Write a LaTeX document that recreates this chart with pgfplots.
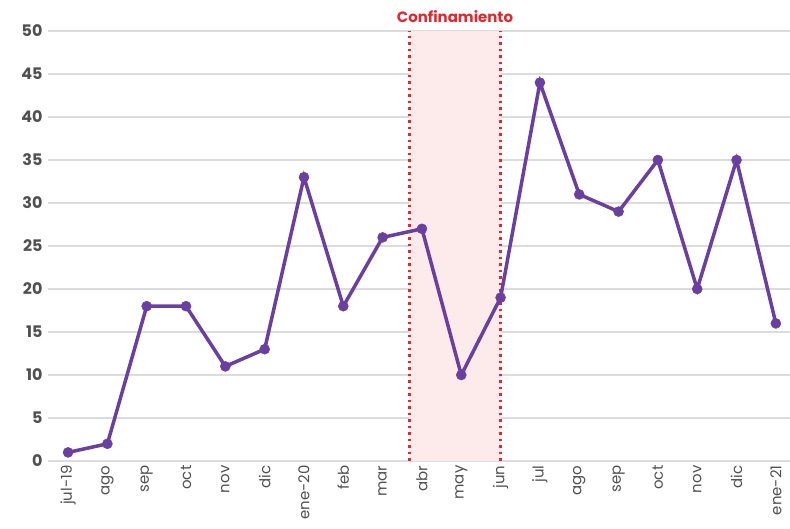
\documentclass[border=0pt]{standalone}
\usepackage{pgfplots}
\pgfplotsset{compat=1.18}
\usepackage{fontspec}
\setmainfont{Poppins}
\definecolor{linep}{HTML}{6A3FA0}
\definecolor{gridg}{HTML}{DCDCDC}
\definecolor{txtg}{HTML}{505050}
\definecolor{redl}{HTML}{E0282E}
\definecolor{pinkshade}{HTML}{FCEBEA}
\begin{document}
\begin{tikzpicture}
\path[use as bounding box] (-48bp,-68bp) rectangle (742bp,461bp);
\begin{axis}[
  at={(0,0)}, anchor=south west,
  scale only axis, width=742bp, height=430bp,
  xmin=-0.51, xmax=18.36, ymin=0, ymax=50,
  axis line style={draw=none},
  xtick={0,...,18},
  xticklabels={jul-19,ago,sep,oct,nov,dic,ene-20,feb,mar,abr,may,jun,jul,ago,sep,oct,nov,dic,ene-21},
  x tick label style={rotate=90, anchor=east, font=\fontsize{15}{15}\selectfont, text=txtg, xshift=-1bp},
  ytick={0,5,...,50},
  y tick label style={font=\fontsize{16}{16}\selectfont\bfseries, text=txtg, xshift=-2bp},
  /pgf/number format/assume math mode=true,
  major tick length=0pt,
  ymajorgrids, grid style={gridg, line width=1.5bp},
  clip=false,
]
\fill[pinkshade] (axis cs:8.68,0) rectangle (axis cs:11,50);
\draw[redl, line width=2.5bp, dash pattern=on 2.5bp off 4bp] (axis cs:8.68,0) -- (axis cs:8.68,50);
\draw[redl, line width=2.5bp, dash pattern=on 2.5bp off 4bp] (axis cs:11,0) -- (axis cs:11,50);
\node[font=\fontsize{15}{15}\selectfont\bfseries, text=redl] at (axis cs:9.84,51.7) {Confinamiento};
\addplot[linep, line width=3.5bp, mark=*, mark size=5bp, mark options={fill=linep, draw=linep, line width=0.5bp}] coordinates {
(0,1) (1,2) (2,18) (3,18) (4,11) (5,13) (6,33) (7,18) (8,26) (9,27)
(10,10) (11,19) (12,44) (13,31) (14,29) (15,35) (16,20) (17,35) (18,16)
};
\end{axis}
\end{tikzpicture}
\end{document}
